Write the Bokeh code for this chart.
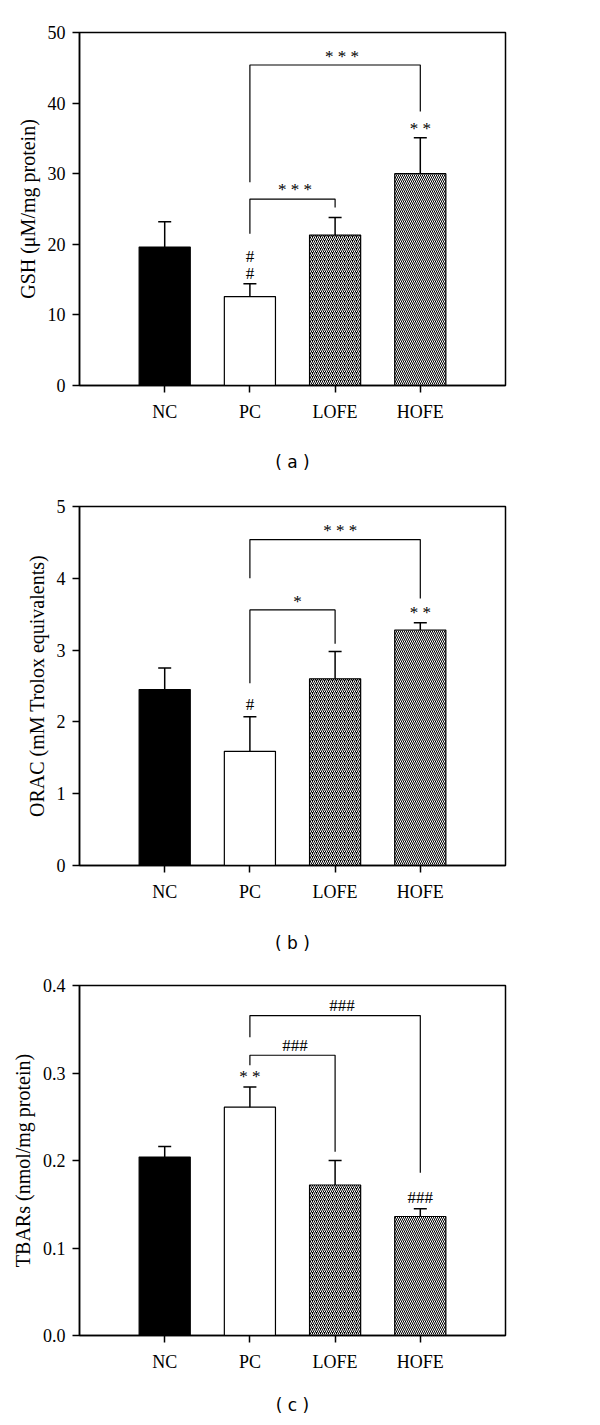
from bokeh.plotting import figure
from bokeh.models import ColumnDataSource, Whisker, TeeHead, FixedTicker, Range1d, PrintfTickFormatter
from bokeh.layouts import column
from bokeh.embed import file_html
from bokeh.resources import INLINE
from bokeh.core.properties import value

groups = ["NC", "PC", "LOFE", "HOFE"]
positions = [1, 2, 3, 4]

gsh_mean = [19.6, 12.6, 21.3, 30.0]
gsh_err = [3.6, 1.8, 2.5, 5.1]
orac_mean = [2.45, 1.59, 2.60, 3.28]
orac_err = [0.30, 0.48, 0.38, 0.10]
tbars_mean = [0.204, 0.261, 0.172, 0.136]
tbars_err = [0.012, 0.023, 0.028, 0.009]

# brackets: (x_from, x_to, y_bar, y_left_end, y_right_end)
gsh_brackets = [(2, 4, 45.4, 28.8, 38.8), (2, 3, 26.4, 21.5, 25.2)]
orac_brackets = [(2, 4, 4.54, 4.0, 3.72), (2, 3, 3.56, 2.54, 3.09)]
tbars_brackets = [(2, 4, 0.3656, 0.341, 0.186), (2, 3, 0.3203, 0.309, 0.210)]

gsh_marks_x = [3.08, 2.53, 4.0, 2.0, 2.0]
gsh_marks_y = [46.6, 27.7, 36.4, 18.3, 15.8]
gsh_marks_t = ["* * *", "* * *", "* *", "#", "#"]
orac_marks_x = [3.06, 2.56, 4.0, 2.0]
orac_marks_y = [4.67, 3.67, 3.53, 2.24]
orac_marks_t = ["* * *", "*", "* *", "#"]
tbars_marks_x = [3.08, 2.53, 2.0, 4.0]
tbars_marks_y = [0.3767, 0.3318, 0.2961, 0.158]
tbars_marks_t = ["###", "###", "* *", "###"]

fills = ["black", "white", "black", "black"]
hatches = ["blank", "blank", "right_diagonal_line", "left_diagonal_line"]

SERIF = "Liberation Serif"


def make_panel(means, errs, ymax, yticks, ylabel, caption, brackets, mx, my, mt,
               h, top, bottom, left, fmt, cap_standoff):
    p = figure(width=592, height=h, x_range=Range1d(0, 5), y_range=Range1d(0, ymax),
               output_backend="svg", toolbar_location=None,
               min_border_left=left, min_border_right=87,
               min_border_top=top, min_border_bottom=bottom)
    src = ColumnDataSource(dict(x=positions, top=means, fill=fills, hatch=hatches,
                                lower=means, upper=[m + e for m, e in zip(means, errs)]))
    p.vbar(x="x", top="top", width=0.6, source=src, fill_color="fill", line_color="black",
           line_width=1.2, hatch_pattern="hatch", hatch_color="white", hatch_scale=4,
           hatch_weight=1)
    w = Whisker(base="x", lower="lower", upper="upper", source=src, line_width=1.5,
                line_color="black", upper_head=TeeHead(size=13, line_width=1.5, line_color="black"),
                lower_head=None, level="overlay")
    p.add_layout(w)
    xs = [[b[0], b[0], b[1], b[1]] for b in brackets]
    ys = [[b[3], b[2], b[2], b[4]] for b in brackets]
    p.multi_line(xs=xs, ys=ys, line_color="black", line_width=1.2)
    p.text(x=mx, y=my, text=mt, text_align="center", text_baseline="middle",
           text_font=value(SERIF), text_font_size="17px", text_color="black")

    p.xgrid.visible = False
    p.ygrid.visible = False
    p.outline_line_color = "black"
    p.outline_line_width = 1.5
    p.outline_line_alpha = 1

    p.xaxis.ticker = FixedTicker(ticks=positions)
    p.xaxis.major_label_overrides = {x: g for x, g in zip(positions, groups)}
    p.yaxis.ticker = FixedTicker(ticks=yticks)
    p.yaxis.formatter = PrintfTickFormatter(format=fmt)
    p.axis.minor_tick_line_color = None
    p.axis.major_tick_in = 0
    p.axis.major_tick_out = 7
    p.axis.axis_line_width = 1.5
    p.axis.major_tick_line_width = 1.5
    p.axis.major_label_text_font = SERIF
    p.axis.major_label_text_font_size = "18px"
    p.axis.major_label_text_color = "black"
    p.xaxis.major_label_standoff = 9
    p.yaxis.major_label_standoff = 7
    p.yaxis.axis_label = ylabel
    p.yaxis.axis_label_text_font = SERIF
    p.yaxis.axis_label_text_font_size = "20px"
    p.yaxis.axis_label_text_font_style = "normal"
    p.yaxis.axis_label_text_color = "black"
    p.yaxis.axis_label_standoff = 6
    # panel caption, drawn as the x-axis label
    p.xaxis.axis_label = caption
    p.xaxis.axis_label_text_font = "DejaVu Sans"
    p.xaxis.axis_label_text_font_size = "17px"
    p.xaxis.axis_label_text_font_style = "normal"
    p.xaxis.axis_label_text_color = "black"
    p.xaxis.axis_label_standoff = cap_standoff
    return p


pa = make_panel(gsh_mean, gsh_err, 50, [0, 10, 20, 30, 40, 50], "GSH (μM/mg protein)", "( a )",
                gsh_brackets, gsh_marks_x, gsh_marks_y, gsh_marks_t, 480, 32, 95, 76, "%d", 27)
pb = make_panel(orac_mean, orac_err, 5, [0, 1, 2, 3, 4, 5], "ORAC (mM Trolox equivalents)", "( b )",
                orac_brackets, orac_marks_x, orac_marks_y, orac_marks_t, 480, 26, 95, 69, "%d", 28)
pc = make_panel(tbars_mean, tbars_err, 0.4, [0.0, 0.1, 0.2, 0.3, 0.4], "TBARs (nmol/mg protein)", "( c )",
                tbars_brackets, tbars_marks_x, tbars_marks_y, tbars_marks_t, 457, 25, 81, 79, "%.1f", 20)

layout = column(pa, pb, pc, spacing=0)
open("out.html", "w").write(file_html(layout, INLINE))
